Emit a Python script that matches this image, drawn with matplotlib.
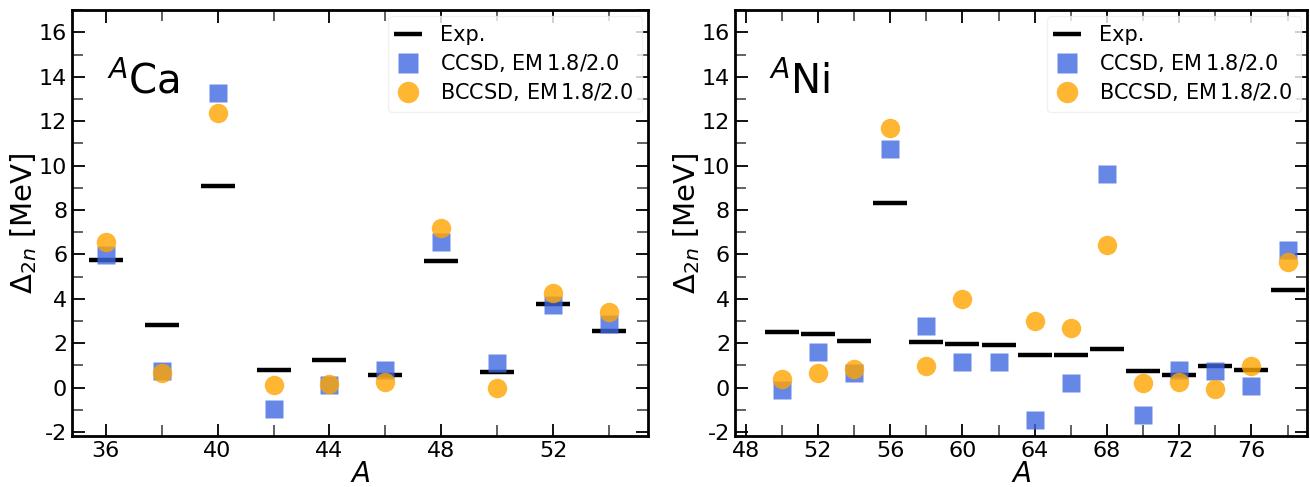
import matplotlib
matplotlib.use('Agg')
import matplotlib.pyplot as plt
from matplotlib.ticker import MultipleLocator

# Ca isotopes
A_ca = [36, 38, 40, 42, 44, 46, 48, 50, 52, 54]
exp_ca = [5.75, 2.82, 9.1, 0.78, 1.25, 0.58, 5.7, 0.68, 3.78, 2.55]
ccsd_ca = [5.95, 0.75, 13.25, -0.95, 0.1, 0.8, 6.55, 1.1, 3.72, 2.85]
bccsd_ca = [6.55, 0.65, 12.35, 0.1, 0.15, 0.25, 7.2, 0.0, 4.25, 3.4]

# Ni isotopes
A_ni = [50, 52, 54, 56, 58, 60, 62, 64, 66, 68, 70, 72, 74, 76, 78]
exp_ni = [2.5, 2.4, 2.08, 8.3, 2.07, 1.97, 1.92, 1.45, 1.45, 1.72, 0.75, 0.57, 0.95, 0.77, 4.4]
ccsd_ni = [-0.1, 1.6, 0.65, 10.75, 2.75, 1.15, 1.15, -1.45, 0.2, 9.6, -1.25, 0.8, 0.75, 0.05, 6.2]
A_ni_b = [50, 52, 54, 56, 58, 60, 64, 66, 68, 70, 72, 74, 76, 78]
bccsd_ni = [0.4, 0.65, 0.85, 11.7, 0.95, 4.0, 3.0, 2.7, 6.4, 0.2, 0.25, -0.05, 0.95, 5.65]

plt.rcParams['font.family'] = 'DejaVu Sans'

fig = plt.figure(figsize=(13.1, 4.87), dpi=100)
ax1 = fig.add_axes([0.055, 0.104, 0.44, 0.875])
ax2 = fig.add_axes([0.561, 0.104, 0.437, 0.875])


def draw(ax, A, exp, ccsd, Ab, bccsd, name, xlim):
    ax.plot(A, exp, ls='none', marker='_', ms=24, mew=3.2, color='black', label='Exp.')
    ax.plot(A, ccsd, ls='none', marker='s', ms=13, color='royalblue', alpha=0.8,
            mec='none', label='CCSD, EM$\\,$1.8/2.0')
    ax.plot(Ab, bccsd, ls='none', marker='o', ms=14, color='orange', alpha=0.8,
            mec='none', label='BCCSD, EM$\\,$1.8/2.0')
    ax.set_xlim(*xlim)
    ax.set_ylim(-2.2, 17)
    ax.xaxis.set_major_locator(MultipleLocator(4))
    ax.xaxis.set_minor_locator(MultipleLocator(2))
    ax.yaxis.set_major_locator(MultipleLocator(2))
    ax.yaxis.set_minor_locator(MultipleLocator(1))
    ax.tick_params(which='both', direction='in', top=True, right=True, labelsize=16)
    ax.tick_params(which='major', length=9, width=1.3)
    ax.tick_params(which='minor', length=8, width=1.3, color='#555555')
    for s in ax.spines.values():
        s.set_linewidth(2)
    ax.set_xlabel('$A$', fontsize=20, labelpad=-1)
    ax.set_ylabel(r'$\Delta_{2n}$ [MeV]', fontsize=21, labelpad=0)
    ax.text(0.06, 0.83, '$^{A}$' + name, transform=ax.transAxes, fontsize=29, va='center')
    leg = ax.legend(loc='upper right', fontsize=15, handlelength=1.1, borderpad=0.4,
                    labelspacing=0.35, handletextpad=1.0, framealpha=0.8,
                    edgecolor='#eeeeee', fancybox=True, markerscale=1.1,
                    borderaxespad=0.3)
    leg.legend_handles[0].set_markersize(20)


draw(ax1, A_ca, exp_ca, ccsd_ca, A_ca, bccsd_ca, 'Ca', (34.8, 55.4))
draw(ax2, A_ni, exp_ni, ccsd_ni, A_ni_b, bccsd_ni, 'Ni', (47.4, 79.1))
for ax in (ax1, ax2):
    ax.set_yticks(range(-2, 17, 2))
    ax.set_yticklabels([str(t) for t in range(-2, 17, 2)])

fig.savefig('out.png', dpi=100)
